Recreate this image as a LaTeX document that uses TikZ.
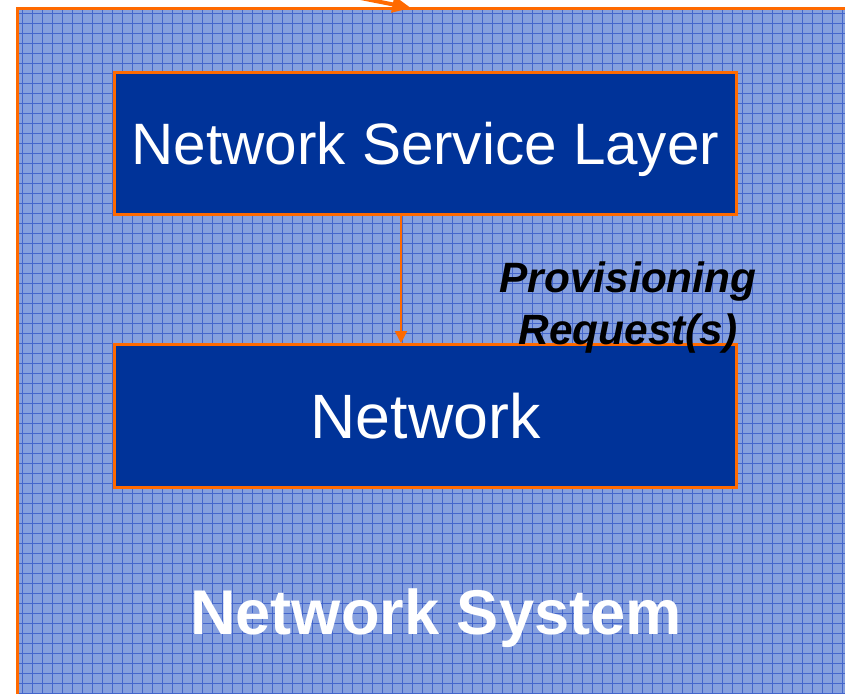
\documentclass[tikz,border=0pt]{standalone}
\usepackage{fontspec}
\setmainfont{Liberation Sans}
\usetikzlibrary{arrows.meta,positioning}
\definecolor{sysblue}{HTML}{86A0DE}
\definecolor{gridblue}{HTML}{4466CC}
\definecolor{boxblue}{HTML}{003399}
\definecolor{boxorange}{HTML}{FF6A00}

\begin{document}
\begin{tikzpicture}[x=0.75pt,y=-0.75pt]
        \useasboundingbox (0,0) rectangle (845,693);

        % Setup the style for the layers
        \tikzset{layer style/.style={draw=boxorange,
                                     line width=2.2pt,
                                     fill=boxblue,
                                     text=white,
                                     inner sep=0pt,
                                     text depth=0pt,
                                     minimum width=467pt,
                                     minimum height=107pt}}

        % Draw the system area
        \fill[sysblue] (17,8) rectangle (870,720);
        \begin{scope}
            \clip (17,8) rectangle (845,693);
            \foreach \gx in {22,32,...,842}
                \draw[gridblue, line width=0.6pt] (\gx,8) -- (\gx,693);
            \foreach \gy in {13,23,...,693}
                \draw[gridblue, line width=0.6pt] (17,\gy) -- (845,\gy);
        \end{scope}
        \draw[boxorange, line width=2.3pt] (17.5,8.5) rectangle (880,730);

        % Draw the layers
        \node[layer style, font=\fontsize{43.8}{50}\selectfont] at (425.5,143.5) (nsl) {Network Service Layer};
        \node[layer style, font=\fontsize{47}{54}\selectfont] at (425.5,416) (net) {Network};

        \node[font=\bfseries\itshape\fontsize{31.8}{39}\selectfont, align=center] at (628,308) (req) {Provisioning\\Request(s)};
        \node[font=\bfseries\fontsize{47.4}{54}\selectfont, text=white, text depth=0pt] at (436,612) (sys) {Network System};

        % Connect with arrows
        \coordinate (feed) at (300,-14);
        \coordinate (entry) at (411,8);
        \draw[boxorange, line width=3pt, -{Triangle[length=14pt,width=12pt]}] (feed) -- (entry);
        \draw[boxorange, line width=1.1pt, -{Triangle[length=9pt,width=9pt]}]
            ([xshift=-18.4pt]nsl.south) -- ([xshift=-18.4pt]net.north);
\end{tikzpicture}
\end{document}
